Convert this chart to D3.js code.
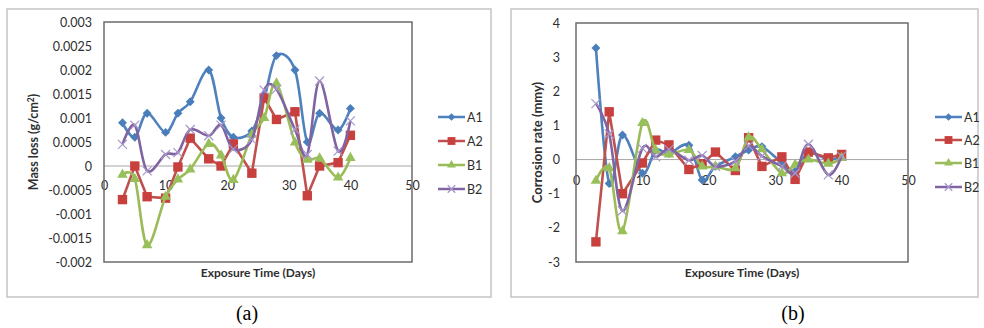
<!DOCTYPE html>
<html lang="en">

<head>
    <meta charset="UTF-8">
    <script src="https://d3js.org/d3.v7.min.js"></script>
    <style>
        body { margin: 0; background: #fff; }
        text { font-family: Lato, "Open Sans", sans-serif; }
    </style>
    <title>Mass loss / corrosion rate</title>
</head>

<body>
    <div class="canvas"></div>
    <script>
        // exposure days and series
        const days = [3, 5, 7, 10, 12, 14, 17, 19, 21, 24, 26, 28, 31, 33, 35, 38, 40]
        const seriesNames = ['A1', 'A2', 'B1', 'B2']

        const massA1 = [0.0009, 0.0006, 0.0011, 0.0007, 0.0011, 0.00134, 0.002, 0.001, 0.0006, 0.00073, 0.0014, 0.0023, 0.002, 0.0005, 0.0011, 0.00075, 0.0012]
        const massA2 = [-0.0007, 0, -0.00064, -0.00067, -0.00002, 0.00058, 0.00015, 0, 0.00046, -0.00015, 0.00142, 0.00097, 0.00113, -0.00062, 0, 0.00007, 0.00064]
        const massB1 = [-0.00018, -0.00027, -0.00165, -0.00064, -0.00028, -0.00007, 0.00046, 0.00022, -0.00029, 0.00065, 0.001, 0.00172, 0.00049, 0.00013, 0.00016, -0.00024, 0.00017]
        const massB2 = [0.00045, 0.00085, -0.0001, 0.00024, 0.00028, 0.00076, 0.00063, 0.00085, 0.00035, 0.00055, 0.00158, 0.0016, 0.00076, 0.00024, 0.00177, 0.00031, 0.00094]

        const rateA1 = [3.27, -0.7, 0.72, -0.4, 0.27, 0.18, 0.42, -0.6, -0.2, 0.08, 0.28, 0.38, -0.1, -0.34, 0.2, 0, 0.1]
        const rateA2 = [-2.41, 1.4, -1.0, -0.1, 0.57, 0.43, -0.29, -0.12, 0.22, -0.32, 0.64, -0.2, 0.08, -0.58, 0.22, 0.05, 0.15]
        const rateB1 = [-0.62, -0.25, -2.1, 1.07, 0.27, 0.15, 0.28, -0.2, -0.2, -0.25, 0.65, 0.3, -0.4, -0.15, 0, -0.12, 0.05]
        const rateB2 = [1.64, 0.75, -1.5, 0.33, 0.08, 0.3, -0.02, 0.12, -0.2, -0.05, 0.4, 0.1, -0.2, -0.4, 0.45, -0.45, 0.1]

        const dayTicks = [0, 10, 20, 30, 40, 50]
        const massTicks = [-0.002, -0.0015, -0.001, -0.0005, 0, 0.0005, 0.001, 0.0015, 0.002, 0.0025, 0.003]
        const rateTicks = [-3, -2, -1, 0, 1, 2, 3, 4]

        const colors = ['#4f81bd', '#c0504d', '#9bbb59', '#8064a2']
        const markerColors = ['#4a7ebb', '#c8403e', '#98c05a', '#a797c9']
        const smooth = [true, false, true, true]

        const areaWidth = 984
        const areaHeight = 328
        const svg = d3.select('.canvas')
            .append('svg')
            .attr('width', areaWidth)
            .attr('height', areaHeight)

        function drawMarker(g, i, cx, cy, scale) {
            const c = markerColors[i]
            if (i === 0) {
                g.append('path')
                    .attr('d', d3.symbol(d3.symbolSquare, 40 * scale)())
                    .attr('transform', `translate(${cx},${cy}) rotate(45)`)
                    .attr('fill', c)
            } else if (i === 1) {
                g.append('path')
                    .attr('d', d3.symbol(d3.symbolSquare, 88 * scale)())
                    .attr('transform', `translate(${cx},${cy})`)
                    .attr('fill', c)
            } else if (i === 2) {
                g.append('path')
                    .attr('d', d3.symbol(d3.symbolTriangle, 48 * scale)())
                    .attr('transform', `translate(${cx},${cy})`)
                    .attr('fill', c)
            } else {
                const r = 4.5 * Math.sqrt(scale)
                g.append('path')
                    .attr('d', `M${-r},${-r}L${r},${r}M${-r},${r}L${r},${-r}`)
                    .attr('transform', `translate(${cx},${cy})`)
                    .attr('stroke', c)
                    .attr('stroke-width', 1.2)
                    .attr('fill', 'none')
            }
        }

        function drawPanel(p) {
            const panel = svg.append('g')

            panel.append('rect')
                .attr('x', p.frame[0]).attr('y', p.frame[1])
                .attr('width', p.frame[2]).attr('height', p.frame[3])
                .attr('fill', '#fff')
                .attr('stroke', '#c4c4c4')
                .attr('stroke-width', 1.5)

            const x = d3.scaleLinear().domain([0, 50]).range([p.left, p.right])
            const y = d3.scaleLinear().domain(d3.extent(p.yTicks)).range([p.bottom, p.top])

            // zero line
            panel.append('line')
                .attr('x1', p.left).attr('x2', p.right)
                .attr('y1', y(0)).attr('y2', y(0))
                .attr('stroke', '#a6a6a6')
                .attr('stroke-width', 1)

            const yAxis = d3.axisLeft(y)
                .tickValues(p.yTicks)
                .tickSize(0)
                .tickPadding(p.yPad)
                .tickFormat(p.yFormat)
            const yAxisG = panel.append('g')
                .attr('transform', `translate(${p.left},0)`)
                .call(yAxis)
            yAxisG.select('.domain').remove()
            yAxisG.selectAll('text')
                .style('font-size', '12.5px')
                .attr('fill', '#2e2e2e')

            const xAxis = d3.axisBottom(x)
                .tickValues(dayTicks)
                .tickSize(0)
                .tickPadding(p.xPad)
            const xAxisG = panel.append('g')
                .attr('transform', `translate(0,${y(0)})`)
                .call(xAxis)
            xAxisG.select('.domain').remove()
            xAxisG.selectAll('text')
                .style('font-size', '12.5px')
                .attr('fill', '#2e2e2e')

            // series
            p.series.forEach((vals, i) => {
                const pts = days.map((d, k) => [d, vals[k]])
                const line = d3.line()
                    .x(d => x(d[0]))
                    .y(d => y(d[1]))
                    .curve(smooth[i] ? d3.curveCardinal.tension(0) : d3.curveLinear)
                panel.append('path')
                    .attr('d', line(pts))
                    .attr('fill', 'none')
                    .attr('stroke', colors[i])
                    .attr('stroke-width', 2.6)
                    .attr('stroke-linejoin', 'round')
                const mg = panel.append('g')
                pts.forEach(d => drawMarker(mg, i, x(d[0]), y(d[1]), 1))
            })

            // plot area border
            panel.append('rect')
                .attr('x', p.left).attr('y', p.top)
                .attr('width', p.right - p.left).attr('height', p.bottom - p.top)
                .attr('fill', 'none')
                .attr('stroke', '#6b6b6b')
                .attr('stroke-width', 1.5)

            panel.append('text')
                .attr('transform', `translate(${p.yTitleX},${(p.top + p.bottom) / 2}) rotate(-90)`)
                .attr('text-anchor', 'middle')
                .attr('dy', '0.35em')
                .style('font-size', p.yTitleSize)
                .style('font-weight', 'bold')
                .attr('fill', '#2e2e2e')
                .text(p.yTitle)
                .call(t => p.yTitleSup && t.append('tspan').attr('dy', -4).style('font-size', '8.5px').text('2'))
                .call(t => p.yTitleSup && t.append('tspan').attr('dy', 4).text(')'))

            panel.append('text')
                .attr('x', (p.left + p.right) / 2)
                .attr('y', 277)
                .attr('text-anchor', 'middle')
                .style('font-size', '12px')
                .style('font-weight', 'bold')
                .attr('fill', '#2e2e2e')
                .text('Exposure Time (Days)')

            // legend
            seriesNames.forEach((name, i) => {
                const ly = p.legendY[i]
                panel.append('line')
                    .attr('x1', p.legendX).attr('x2', p.legendX + 27)
                    .attr('y1', ly).attr('y2', ly)
                    .attr('stroke', colors[i])
                    .attr('stroke-width', 2.5)
                drawMarker(panel, i, p.legendX + 13.5, ly, 0.7)
                panel.append('text')
                    .attr('x', p.legendX + 29)
                    .attr('y', ly)
                    .attr('dy', '0.36em')
                    .style('font-size', '12.5px')
                    .attr('fill', '#2e2e2e')
                    .text(name)
            })

            svg.append('text')
                .attr('x', p.capX)
                .attr('y', 320)
                .attr('text-anchor', 'middle')
                .style('font-family', '"Liberation Serif", serif')
                .style('font-size', '20px')
                .attr('fill', '#000')
                .text(p.caption)
        }

        drawPanel({
            frame: [7, 9, 484, 288],
            left: 104, right: 412, top: 22, bottom: 262,
            yTicks: massTicks,
            yFormat: d => String(+d.toFixed(4)),
            yPad: 12, xPad: 15,
            series: [massA1, massA2, massB1, massB2],
            yTitle: 'Mass loss (g/cm',
            yTitleSup: true,
            yTitleSize: '12.5px',
            yTitleX: 34,
            legendX: 438,
            legendY: [117, 141, 165, 189],
            capX: 247,
            caption: '(a)'
        })

        drawPanel({
            frame: [511, 9, 467, 288],
            left: 576, right: 908, top: 23, bottom: 262,
            yTicks: rateTicks,
            yFormat: d => String(d),
            yPad: 16, xPad: 17,
            series: [rateA1, rateA2, rateB1, rateB2],
            yTitle: 'Corrosion rate (mmy)',
            yTitleSup: false,
            yTitleSize: '13px',
            yTitleX: 537,
            legendX: 935,
            legendY: [117, 140, 163, 187],
            capX: 793,
            caption: '(b)'
        })
    </script>

</body>

</html>
